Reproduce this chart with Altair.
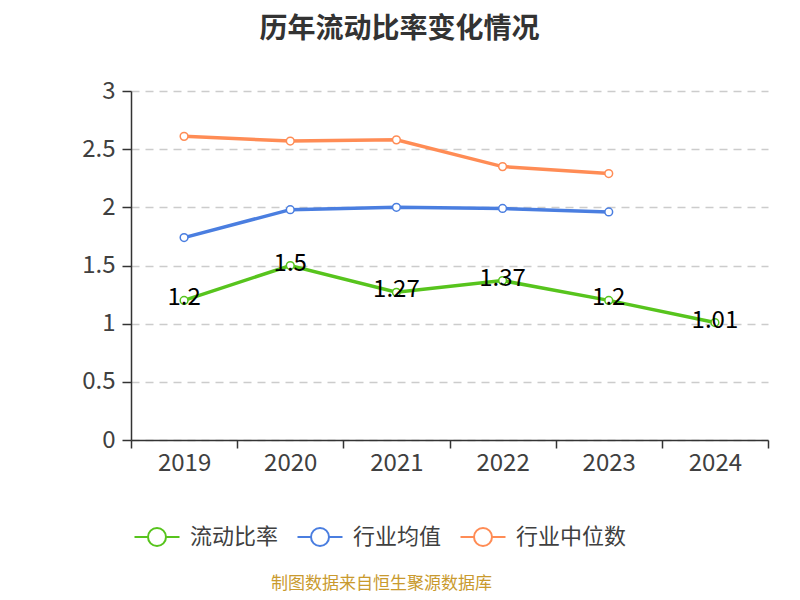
import altair as alt
import pandas as pd

years = ["2019", "2020", "2021", "2022", "2023", "2024"]
series_names = ["流动比率", "行业均值", "行业中位数"]
current_ratio = [1.2, 1.5, 1.27, 1.37, 1.2, 1.01]
industry_mean = [1.74, 1.98, 2.0, 1.99, 1.96]
industry_median = [2.61, 2.57, 2.58, 2.35, 2.29]
colors = ["#57c41d", "#4a7ee0", "#ff8c55"]
y_ticks = [0, 0.5, 1, 1.5, 2, 2.5, 3]

rows = []
for name, vals in zip(series_names, [current_ratio, industry_mean, industry_median]):
    for i, v in enumerate(vals):
        rows.append({"year": years[i], "series": name, "value": v})
df = pd.DataFrame(rows)

FONT = "Noto Sans CJK SC"
sym = "M-2.5,0L-1,0M1,0L2.5,0M-1,0A1,1 0 1,1 1,0A1,1 0 1,1 -1,0"

x = alt.X("year:N", sort=years,
          scale=alt.Scale(domain=years, paddingInner=0, paddingOuter=0),
          axis=alt.Axis(title="制图数据来自恒生聚源数据库", titleColor="#c99a2e", titleFontSize=17,
                        titleFontWeight="normal", titleFont=FONT, titleX=250, titleY=143,
                        titleAlign="center", titleBaseline="middle",
                        labelAngle=0, labelFontSize=24, labelColor="#404040", labelFont=FONT,
                        labelPadding=3, tickBand="extent", tickSize=8, tickColor="#333",
                        tickWidth=1.5, domainColor="#333", domainWidth=1.5, grid=False))
y = alt.Y("value:Q",
          scale=alt.Scale(domain=[0, 3], nice=False, zero=True),
          axis=alt.Axis(title=None, values=y_ticks, format="~g", labelFontSize=24,
                        labelColor="#404040", labelFont=FONT, labelPadding=7,
                        tickSize=9, tickColor="#333", tickWidth=1.5,
                        domainColor="#333", domainWidth=1.5,
                        grid=True, gridColor="#cccccc", gridDash=[8, 6], gridWidth=1.5))
color = alt.Color("series:N",
                  scale=alt.Scale(domain=series_names, range=colors),
                  legend=alt.Legend(title=None, orient="none", direction="horizontal",
                                    legendX=15, legendY=435, symbolType=sym, symbolSize=324,
                                    symbolStrokeWidth=2, symbolFillColor="white",
                                    labelFontSize=22, labelColor="#404040", labelFont=FONT,
                                    labelOffset=22, columnPadding=14, padding=0))

base = alt.Chart(df)
line = base.mark_line(strokeWidth=3.5).encode(x=x, y=y, color=color)
points = base.mark_point(filled=False, fill="white", size=60, strokeWidth=1.5, opacity=1).encode(
    x=x, y=y, color=alt.Color("series:N", scale=alt.Scale(domain=series_names, range=colors), legend=None))
labels = base.transform_filter(alt.datum.series == "流动比率").mark_text(
    fontSize=24, color="#000", baseline="middle", align="center", font=FONT, dy=-2
).encode(x=x, y=y, text=alt.Text("value:Q"))

chart = alt.layer(line, points, labels).properties(
    width=637, height=349,
    autosize=alt.AutoSizeParams(type="none"),
    padding={"left": 123, "top": 83, "right": 24, "bottom": 152},
    title=alt.Title("历年流动比率变化情况", fontSize=28, fontWeight="bold", color="#333",
                    font=FONT, anchor="middle", dx=-50, baseline="middle", offset=21),
).configure_view(stroke=None)

chart.save("out.html", embed_options={"renderer": "svg", "actions": False})
